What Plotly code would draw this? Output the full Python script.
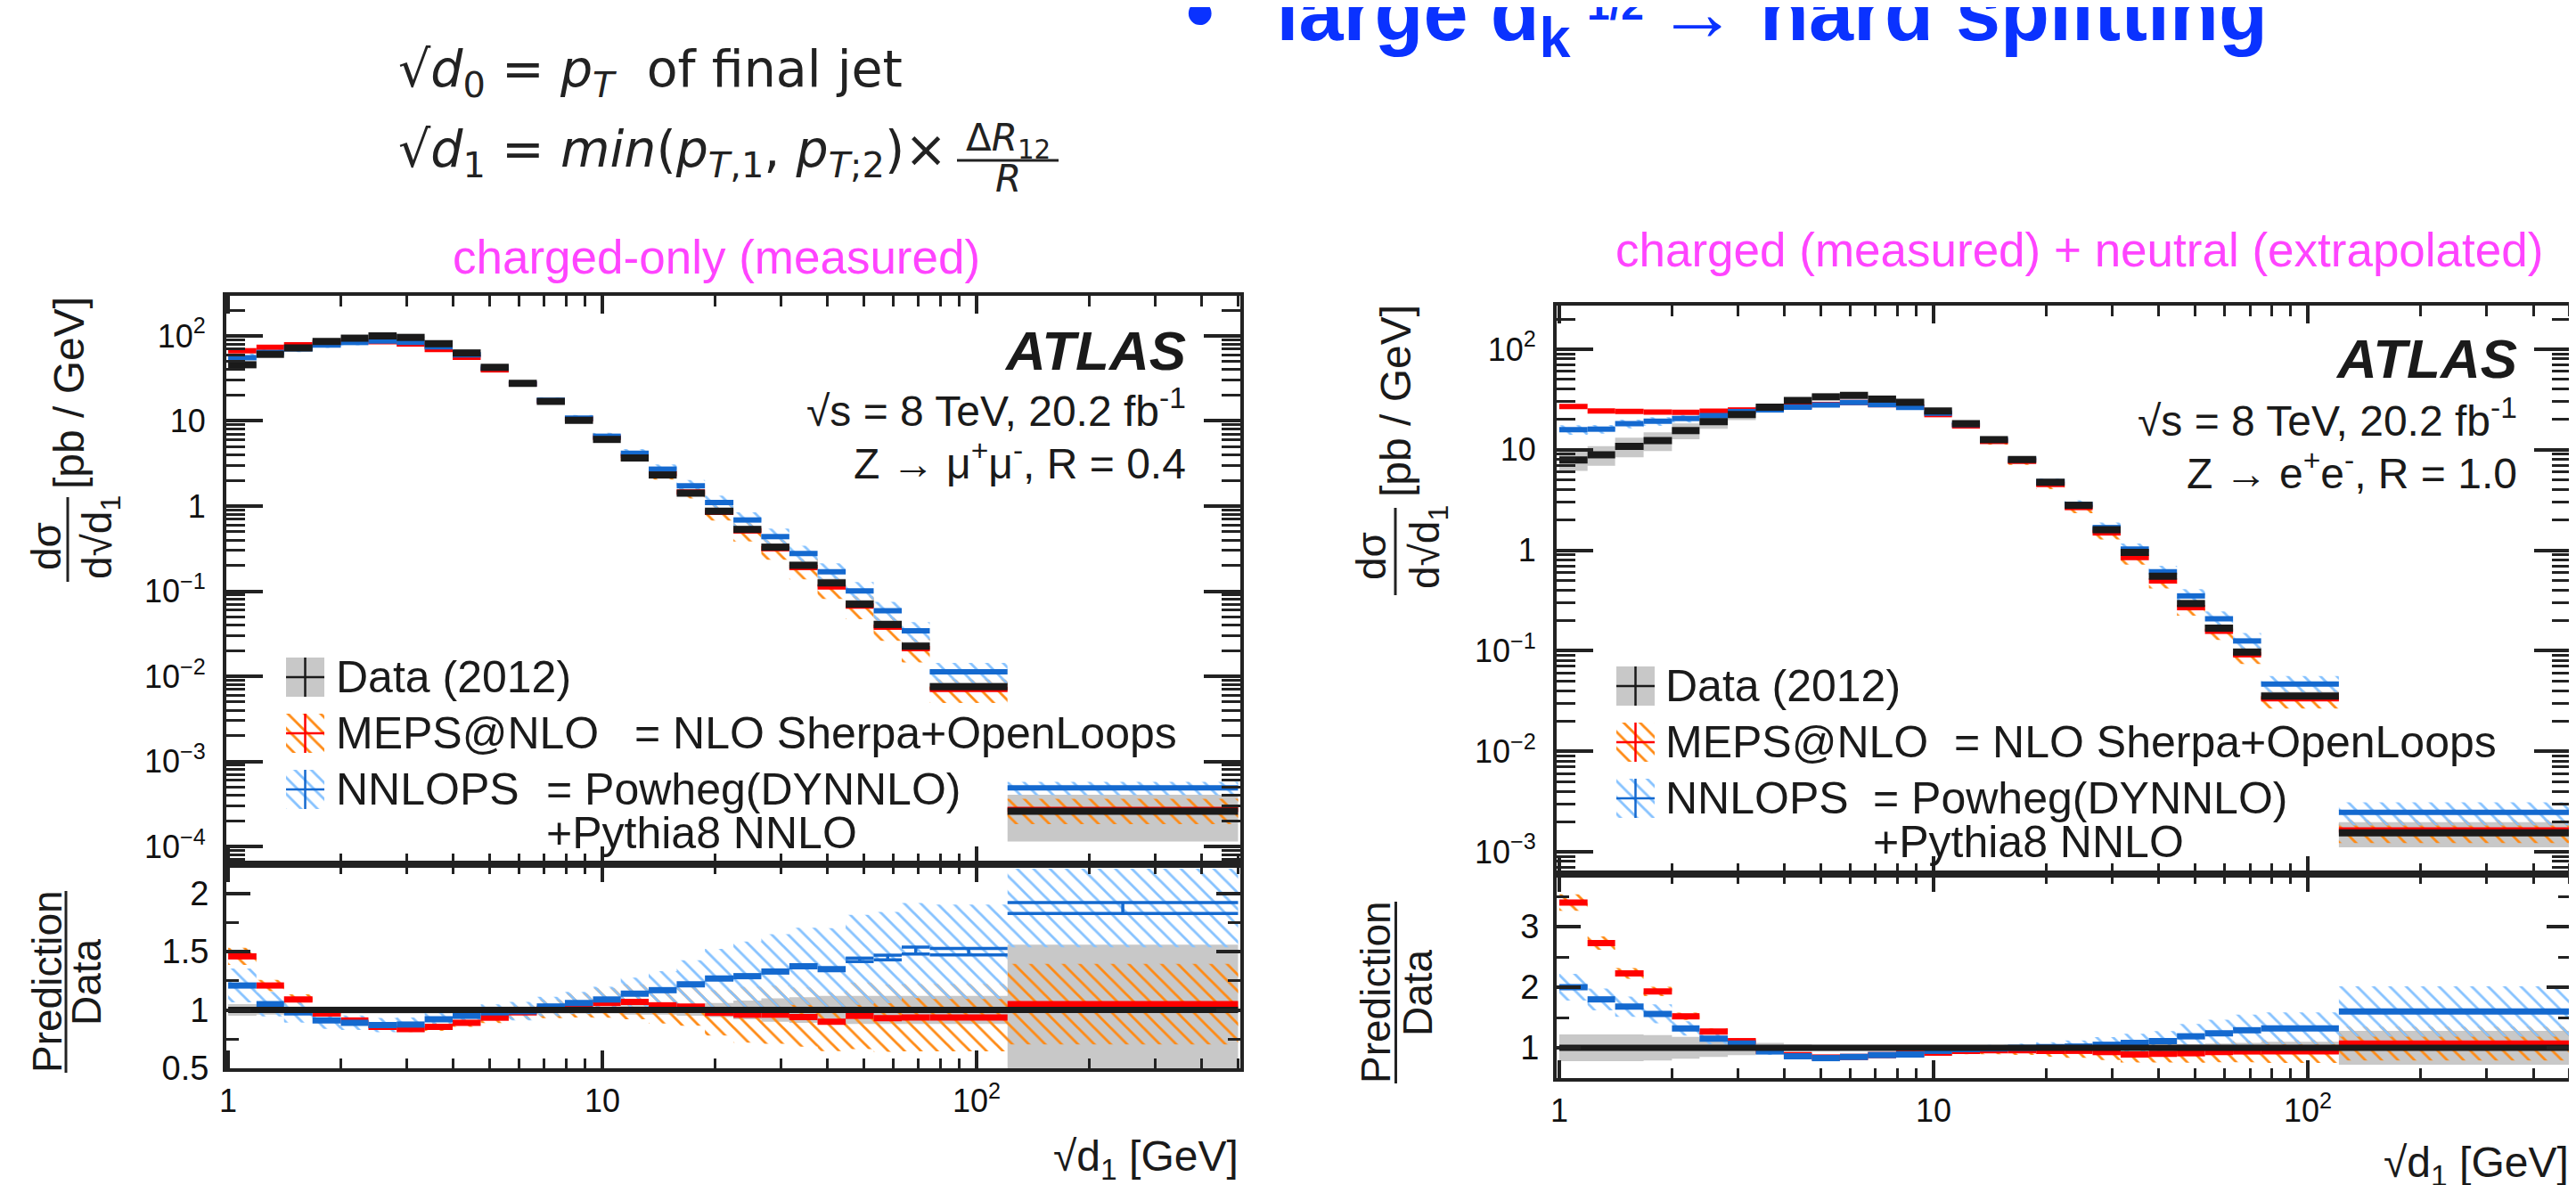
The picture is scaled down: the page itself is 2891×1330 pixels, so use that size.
import plotly.graph_objects as go

W, H = 2891, 1330

# ---------------- data ----------------
# bin edges of sqrt(d1) [GeV] (same binning for both measurements)
edges = [1.0, 1.19, 1.41, 1.68, 2.0, 2.37, 2.82, 3.35, 3.98, 4.73, 5.62, 6.68, 7.94, 9.44,
         11.2, 13.3, 15.8, 18.8, 22.4, 26.6, 31.6, 37.6, 44.7, 53.1, 63.1, 75.0, 121.0, 500.0]

# left: charged-only, Z->mumu, R=0.4
data_L = [45.8, 60.7, 72.0, 86.0, 94.0, 100.0, 96.0, 81.0, 63.0, 42.7, 27.7, 17.0, 10.2, 6.07,
          3.67, 2.32, 1.42, 0.869, 0.532, 0.329, 0.201, 0.125, 0.0704, 0.0406, 0.0226, 0.00752, 0.00026]
meps_ratio_L = [1.46, 1.21, 1.09, 0.97, 0.91, 0.855, 0.836, 0.855, 0.89, 0.934, 0.98, 1.01, 1.04, 1.06,
                1.07, 1.04, 1.03, 0.975, 0.96, 0.96, 0.94, 0.90, 0.95, 0.93, 0.935, 0.935, 1.05]
nnlops_ratio_L = [1.21, 1.05, 0.98, 0.91, 0.89, 0.87, 0.875, 0.92, 0.95, 0.98, 0.99, 1.03, 1.06, 1.09,
                  1.14, 1.17, 1.22, 1.27, 1.29, 1.33, 1.375, 1.35, 1.43, 1.45, 1.51, 1.50, 1.875]
nnlops_stat_L = [0, 0, 0, 0, 0, 0, 0, 0, 0, 0, 0, 0, 0, 0, 0, 0, 0, 0, 0, 0, 0, 0,
                 0.015, 0.02, 0.03, 0.027, 0.047]
data_unc_L = [0.05, 0.04, 0.03, 0.03, 0.03, 0.03, 0.03, 0.03, 0.03, 0.03, 0.03, 0.03, 0.03, 0.03,
              0.04, 0.04, 0.05, 0.06, 0.08, 0.10, 0.11, 0.12, 0.12, 0.12, 0.12, 0.12, 0.56]
meps_unc_L = [0.05, 0.04, 0.04, 0.03, 0.03, 0.03, 0.03, 0.04, 0.04, 0.05, 0.06, 0.08, 0.10, 0.12,
              0.14, 0.15, 0.16, 0.20, 0.25, 0.26, 0.27, 0.28, 0.30, 0.31, 0.31, 0.31, 0.33]
nnlops_unc_L = [0.12, 0.10, 0.09, 0.08, 0.07, 0.07, 0.07, 0.07, 0.07, 0.07, 0.08, 0.08, 0.09, 0.10,
                0.12, 0.14, 0.17, 0.20, 0.23, 0.24, 0.24, 0.26, 0.27, 0.27, 0.27, 0.27, 0.18]

# right: charged + neutral, Z->ee, R=1.0
data_R = [7.9, 8.9, 10.8, 12.3, 15.5, 19.0, 22.4, 26.5, 30.9, 33.6, 34.7, 31.9, 29.6, 24.3,
          18.2, 12.6, 8.0, 4.75, 2.8, 1.6, 0.95, 0.55, 0.295, 0.168, 0.097, 0.0354, 0.00154]
meps_ratio_R = [3.40, 2.73, 2.23, 1.93, 1.52, 1.27, 1.11, 0.95, 0.88, 0.84, 0.85, 0.88, 0.90, 0.92,
                0.95, 0.96, 0.96, 0.95, 0.95, 0.93, 0.89, 0.90, 0.91, 0.93, 0.94, 0.94, 1.07]
nnlops_ratio_R = [2.00, 1.80, 1.68, 1.56, 1.32, 1.15, 1.07, 0.94, 0.86, 0.83, 0.85, 0.88, 0.89, 0.95,
                  0.98, 0.99, 1.00, 1.01, 1.02, 1.05, 1.08, 1.11, 1.19, 1.24, 1.29, 1.32, 1.60]
nnlops_stat_R = [0, 0, 0, 0, 0, 0, 0, 0, 0, 0, 0, 0, 0, 0, 0, 0, 0, 0, 0, 0, 0, 0, 0, 0, 0, 0, 0]
data_unc_R = [0.22, 0.22, 0.22, 0.21, 0.18, 0.15, 0.12, 0.08, 0.06, 0.05, 0.04, 0.03, 0.03, 0.03,
              0.03, 0.03, 0.03, 0.03, 0.04, 0.04, 0.05, 0.05, 0.06, 0.07, 0.08, 0.10, 0.28]
meps_unc_R = [0.04, 0.04, 0.04, 0.04, 0.04, 0.04, 0.04, 0.04, 0.04, 0.04, 0.04, 0.04, 0.05, 0.05,
              0.06, 0.07, 0.08, 0.10, 0.12, 0.14, 0.15, 0.16, 0.17, 0.18, 0.19, 0.20, 0.26]
nnlops_unc_R = [0.11, 0.10, 0.10, 0.10, 0.09, 0.08, 0.07, 0.06, 0.05, 0.05, 0.05, 0.05, 0.05, 0.05,
                0.05, 0.06, 0.07, 0.08, 0.10, 0.12, 0.14, 0.15, 0.17, 0.18, 0.20, 0.20, 0.26]

# tick labels
x_tickvals = [1, 10, 100]
x_ticktext = ["1", "10", "10<sup>2</sup>"]
yup_tickvals_L = [1e-4, 1e-3, 1e-2, 1e-1, 1, 10, 100]
yup_ticktext_L = ["10<sup>−4</sup>", "10<sup>−3</sup>", "10<sup>−2</sup>", "10<sup>−1</sup>", "1", "10", "10<sup>2</sup>"]
yup_tickvals_R = [1e-3, 1e-2, 1e-1, 1, 10, 100]
yup_ticktext_R = ["10<sup>−3</sup>", "10<sup>−2</sup>", "10<sup>−1</sup>", "1", "10", "10<sup>2</sup>"]
ylo_tickvals_L = [0.5, 1, 1.5, 2]
ylo_ticktext_L = ["0.5", "1", "1.5", "2"]
ylo_tickvals_R = [1, 2, 3]
ylo_ticktext_R = ["1", "2", "3"]

# ---------------- style ----------------
BLACK = '#1a1a1a'
RED = '#ff0000'
BLUE = '#1469cf'
LBLUE = '#86c2ff'
ORANGE = '#ff8a14'
GREY = '#c8c8c8'
AX = '#222222'
PINK = '#ff44ff'
HEAD = '#0a32ff'
FONT = 'Liberation Sans'
MATH = 'DejaVu Sans'


def px(x):
    return x / W


def py(y):
    return 1 - y / H


fig = go.Figure()


def seg(lo, hi, vals, keep=None):
    xs, ys = [], []
    for i, (a, b, v) in enumerate(zip(lo, hi, vals)):
        if keep is not None and not keep[i]:
            continue
        xs += [a, b, None]
        ys += [v, v, None]
    return xs, ys


def boxes(lo, hi, dn, up):
    xs, ys = [], []
    for a, b, d, u in zip(lo, hi, dn, up):
        xs += [a, b, b, a, a, None]
        ys += [d, d, u, u, d, None]
    return xs, ys


def add_line(xs, ys, color, width, xa, ya):
    fig.add_trace(go.Scatter(x=xs, y=ys, mode='lines', line=dict(color=color, width=width),
                             xaxis=xa, yaxis=ya, showlegend=False, hoverinfo='skip', connectgaps=False))


def add_fill(xs, ys, color, xa, ya, hatch=False):
    if hatch:
        fig.add_trace(go.Scatter(x=xs, y=ys, mode='lines', line=dict(width=0, color='rgba(0,0,0,0)'),
                                 fill='toself', fillcolor='rgba(0,0,0,0)',
                                 fillpattern=dict(shape='\\', fgcolor=color, bgcolor='rgba(0,0,0,0)',
                                                  fgopacity=1, size=13, solidity=0.22),
                                 xaxis=xa, yaxis=ya, showlegend=False, hoverinfo='skip'))
    else:
        fig.add_trace(go.Scatter(x=xs, y=ys, mode='lines', line=dict(width=0, color=color),
                                 fill='toself', fillcolor=color,
                                 xaxis=xa, yaxis=ya, showlegend=False, hoverinfo='skip'))


def add_panel(data, mr, nr, nstat, du, mu, nu, xu, yu, xl, yl):
    lo, hi = edges[:-1], edges[1:]
    meps = [d * r for d, r in zip(data, mr)]
    nnl = [d * r for d, r in zip(data, nr)]
    # upper panel
    add_fill(*boxes(lo, hi, [d * (1 - u) for d, u in zip(data, du)], [d * (1 + u) for d, u in zip(data, du)]), GREY, xu, yu)
    add_fill(*boxes(lo, hi, [m * (1 - u) for m, u in zip(meps, mu)], [m * (1 + u) for m, u in zip(meps, mu)]), ORANGE, xu, yu, True)
    add_fill(*boxes(lo, hi, [m * (1 - u) for m, u in zip(nnl, nu)], [m * (1 + u) for m, u in zip(nnl, nu)]), LBLUE, xu, yu, True)
    add_line(*seg(lo, hi, meps), RED, 6, xu, yu)
    add_line(*seg(lo, hi, nnl), BLUE, 6, xu, yu)
    add_line(*seg(lo, hi, data), BLACK, 8, xu, yu)
    # ratio panel
    add_fill(*boxes(lo, hi, [1 - u for u in du], [1 + u for u in du]), GREY, xl, yl)
    add_fill(*boxes(lo, hi, [r * (1 - u) for r, u in zip(mr, mu)], [r * (1 + u) for r, u in zip(mr, mu)]), ORANGE, xl, yl, True)
    add_fill(*boxes(lo, hi, [r * (1 - u) for r, u in zip(nr, nu)], [r * (1 + u) for r, u in zip(nr, nu)]), LBLUE, xl, yl, True)
    add_line(*seg(lo, hi, mr), RED, 7, xl, yl)
    thick = [s == 0 for s in nstat]
    add_line(*seg(lo, hi, nr, thick), BLUE, 7, xl, yl)
    if any(s > 0 for s in nstat):
        thin = [s > 0 for s in nstat]
        add_line(*seg(lo, hi, [r + s for r, s in zip(nr, nstat)], thin), BLUE, 3.5, xl, yl)
        add_line(*seg(lo, hi, [r - s for r, s in zip(nr, nstat)], thin), BLUE, 3.5, xl, yl)
        ex, ey = [], []
        for a, b, r, s in zip(lo, hi, nr, nstat):
            if s > 0:
                c = (a * b) ** 0.5
                ex += [c, c, None]
                ey += [r - s, r + s, None]
        add_line(ex, ey, BLUE, 3.5, xl, yl)
    add_line([edges[0], edges[-1]], [1, 1], BLACK, 7, xl, yl)


add_panel(data_L, meps_ratio_L, nnlops_ratio_L, nnlops_stat_L, data_unc_L, meps_unc_L, nnlops_unc_L,
          'x', 'y', 'x2', 'y2')
add_panel(data_R, meps_ratio_R, nnlops_ratio_R, nnlops_stat_R, data_unc_R, meps_unc_R, nnlops_unc_R,
          'x3', 'y3', 'x4', 'y4')

# ---------------- legend symbols (overlay axis in pixel units) ----------------
leg_rows = [
    (313, 356, [752, 815, 878]),
    (1806, 1849, [762, 825, 888]),
]
for x0, x1, ycs in leg_rows:
    xm = (x0 + x1) / 2
    for k, yc in enumerate(ycs):
        bx = [x0, x1, x1, x0, x0]
        by = [yc - 22, yc - 22, yc + 22, yc + 22, yc - 22]
        if k == 0:
            add_fill(bx, by, GREY, 'x5', 'y5')
            col = BLACK
        elif k == 1:
            add_fill(bx, by, ORANGE, 'x5', 'y5', True)
            col = RED
        else:
            add_fill(bx, by, LBLUE, 'x5', 'y5', True)
            col = BLUE
        add_line([x0, x1, None, xm, xm], [yc, yc, None, yc - 22, yc + 22], col, 2.5, 'x5', 'y5')

# ---------------- axes ----------------
tickfont = dict(family=FONT, size=36, color='#111')


def xcfg(dom, anchor, rng, labels, tl, tlm):
    return dict(type='log', domain=dom, anchor=anchor, range=rng, showgrid=False, zeroline=False,
                showline=True, linecolor=AX, linewidth=4, mirror='ticks',
                ticks='inside', ticklen=tl, tickwidth=4, tickcolor=AX,
                tickmode='array', tickvals=x_tickvals, ticktext=x_ticktext, showticklabels=labels,
                tickfont=tickfont, ticklabelstandoff=2,
                minor=dict(ticks='inside', ticklen=tlm, tickwidth=3, tickcolor=AX, dtick='D1', showgrid=False))


def ylogcfg(dom, anchor, rng, tv, tt):
    return dict(type='log', domain=dom, anchor=anchor, range=rng, showgrid=False, zeroline=False,
                showline=True, linecolor=AX, linewidth=4, mirror='ticks',
                ticks='inside', ticklen=41, tickwidth=4, tickcolor=AX,
                tickmode='array', tickvals=tv, ticktext=tt, tickfont=tickfont, ticklabelstandoff=12,
                minor=dict(ticks='inside', ticklen=21, tickwidth=3, tickcolor=AX, dtick='D1', showgrid=False))


def ylincfg(dom, anchor, rng, tv, tt, mdt):
    return dict(type='linear', domain=dom, anchor=anchor, range=rng, showgrid=False, zeroline=False,
                showline=True, linecolor=AX, linewidth=4, mirror='ticks',
                ticks='inside', ticklen=27, tickwidth=4, tickcolor=AX,
                tickmode='array', tickvals=tv, ticktext=tt,
                tickfont=dict(family=FONT, size=38, color='#111'), ticklabelstandoff=8,
                minor=dict(ticks='inside', ticklen=14, tickwidth=3, tickcolor=AX, tick0=0, dtick=mdt, showgrid=False))


xL = [px(246), px(1384)]
xR = [px(1739), px(2877)]

fig.update_layout(
    xaxis=xcfg(xL, 'y', [-0.005, 2.705], False, 20, 12),
    yaxis=ylogcfg([py(962), py(324)], 'x', [-4.209, 2.471], yup_tickvals_L, yup_ticktext_L),
    xaxis2=xcfg(xL, 'y2', [-0.005, 2.705], True, 20, 11),
    yaxis2=ylincfg([py(1191), py(962)], 'x2', [0.5, 2.25], ylo_tickvals_L, ylo_ticktext_L, 0.25),
    xaxis3=xcfg(xR, 'y3', [-0.007, 2.702], False, 20, 12),
    yaxis3=ylogcfg([py(973), py(335)], 'x3', [-3.222, 2.434], yup_tickvals_R, yup_ticktext_R),
    xaxis4=xcfg(xR, 'y4', [-0.007, 2.702], True, 20, 11),
    yaxis4=ylincfg([py(1202), py(973)], 'x4', [0.5, 3.87], ylo_tickvals_R, ylo_ticktext_R, 0.5),
    xaxis5=dict(domain=[0, 1], range=[0, W], visible=False, anchor='y5', fixedrange=True),
    yaxis5=dict(domain=[0, 1], range=[H, 0], visible=False, anchor='x5', fixedrange=True),
)

# ---------------- texts ----------------
ann = []


def text(x, y, s, size, color='#111', xanchor='center', yanchor='middle', family=FONT, angle=0):
    ann.append(dict(x=px(x), y=py(y), xref='paper', yref='paper', text=s, showarrow=False,
                    font=dict(family=family, size=size, color=color), xanchor=xanchor, yanchor=yanchor,
                    textangle=angle))


# slide header (top of it is cut off by the page edge)
text(1321, 71, "<b>•\u2002\u00a0large d<sub>k</sub></b>", 90, HEAD, 'left', 'bottom')
text(1771, 26, "<b>1/2</b>", 46, HEAD, 'left', 'bottom')
text(1850, 71, "<b>→ hard splitting<sub>\u00a0</sub></b>", 90, HEAD, 'left', 'bottom')

text(437, 112, "√<i>d</i><sub>0</sub> = <i>p</i><sub><i>T</i></sub>\u00a0\u00a0of final jet", 57, '#222', 'left', 'bottom', MATH)
text(437, 202, "√<i>d</i><sub>1</sub> = <i>min</i>(<i>p</i><sub><i>T</i>,1</sub>, <i>p</i><sub><i>T</i>;2</sub>)×",
     57, '#222', 'left', 'bottom', MATH)
text(1123, 150, "Δ<i>R</i><sub>12</sub>", 42, '#222', 'center', 'middle', MATH)
text(1123, 192, "<i>R</i>", 42, '#222', 'center', 'middle', MATH)

# panel titles
text(796, 280, "charged-only (measured)", 53, PINK)
text(2325, 273, "charged (measured) + neutral (extrapolated)", 53, PINK)

# ATLAS labels
for xr, ys, proc in [(1325, (386, 450, 509), "Z → μ<sup>+</sup>μ<sup>-</sup>, R = 0.4"),
                     (2819, (394, 461, 520), "Z → e<sup>+</sup>e<sup>-</sup>, R = 1.0")]:
    text(xr, ys[0], "<b><i>ATLAS</i></b>", 62, BLACK, 'right')
    text(xr, ys[1], "√s = 8 TeV, 20.2 fb<sup>-1</sup>", 48, BLACK, 'right')
    text(xr, ys[2], proc, 48, BLACK, 'right')

# legends
for tx, eqx1, eqx2, ycs, yp in [(367, 702, 603, (752, 815, 878), 927),
                                (1859, 2183, 2092, (762, 825, 888), 937)]:
    text(tx, ycs[0], "Data (2012)", 50, BLACK, 'left')
    text(tx, ycs[1], "MEPS@NLO", 50, BLACK, 'left')
    text(tx, ycs[2], "NNLOPS", 50, BLACK, 'left')
    text(eqx1, ycs[1], "= NLO Sherpa+OpenLoops", 50, BLACK, 'left')
    text(eqx2, ycs[2], "= Powheg(DYNNLO)", 50, BLACK, 'left')
    text(eqx2, yp, "+Pythia8 NNLO", 50, BLACK, 'left')

# axis titles
shapes = []


def vbar(x, y0, y1):
    shapes.append(dict(type='line', xref='paper', yref='paper', x0=px(x), x1=px(x), y0=py(y0), y1=py(y1),
                       line=dict(color=AX, width=3)))


for (cx_pb, cy_pb, cx_num, cx_den, cy_fr, bar_x, b0, b1,
     cx_pred, cx_data, cy_r, rb0, rb1) in [
        (70, 433, 44, 104, 600, 68, 550, 645, 45, 89, 1094, 992, 1196),
        (1558, 442, 1531, 1594, 611, 1558, 562, 660, 1536, 1583, 1106, 1004, 1208)]:
    text(cx_pb, cy_pb, "[pb / GeV]", 48, BLACK, angle=-90)
    text(cx_num, cy_fr + 5, "dσ", 46, BLACK, angle=-90)
    text(cx_den, cy_fr - 5, "d√d<sub>1</sub>", 46, BLACK, angle=-90)
    vbar(bar_x, b0, b1)
    text(cx_pred, cy_r, "Prediction", 46, BLACK, angle=-90)
    text(cx_data, cy_r, "Data", 46, BLACK, angle=-90)
    vbar((cx_pred + cx_data) / 2 - 1, rb0, rb1)

text(1384, 1293, "√d<sub>1</sub> [GeV]", 48, BLACK, 'right')
text(2877, 1300, "√d<sub>1</sub> [GeV]", 48, BLACK, 'right')

# fraction bar of ΔR12/R
shapes.append(dict(type='line', xref='paper', yref='paper', x0=px(1066), x1=px(1180), y0=py(172), y1=py(172),
                   line=dict(color='#222', width=3)))

fig.update_layout(
    template='none',
    width=W, height=H, autosize=False,
    margin=dict(l=0, r=0, t=0, b=0, pad=0),
    paper_bgcolor='white', plot_bgcolor='rgba(0,0,0,0)',
    font=dict(family=FONT, color='#111'),
    showlegend=False,
    annotations=ann,
    shapes=shapes,
)

fig.write_html("out.html")
